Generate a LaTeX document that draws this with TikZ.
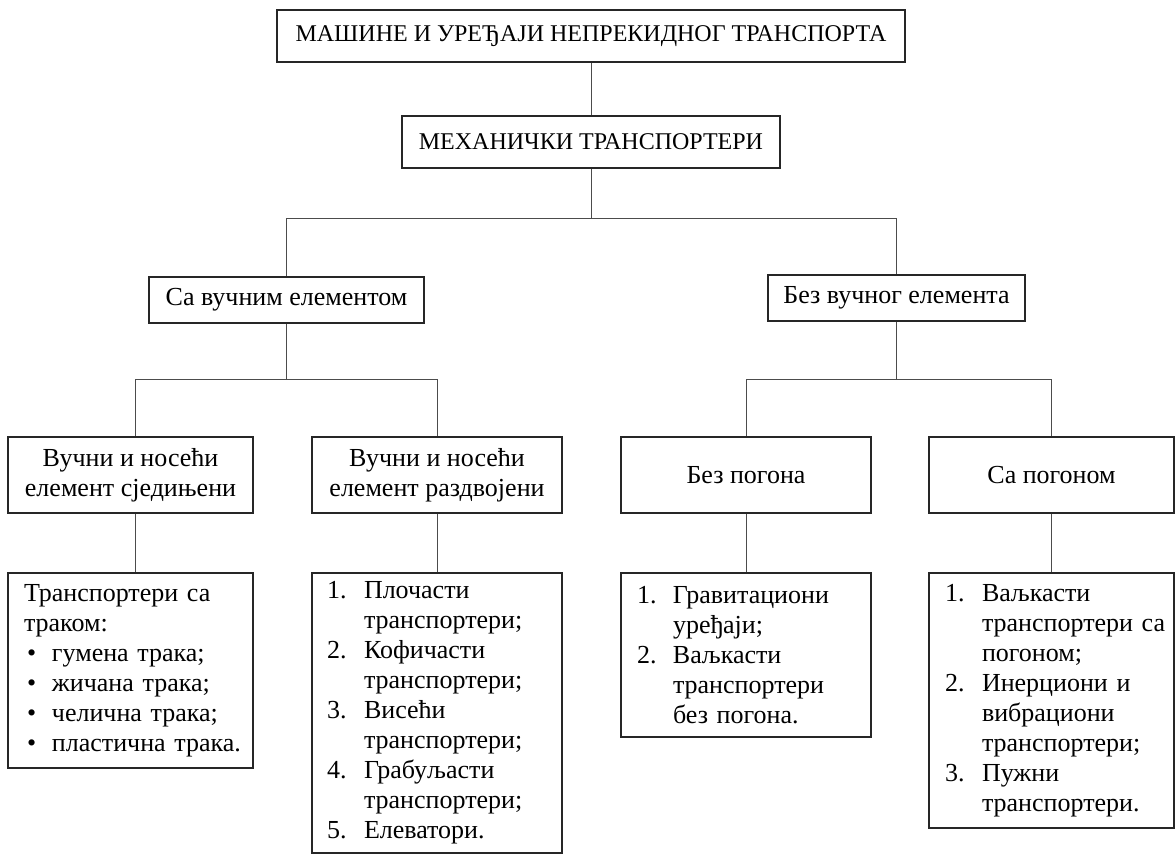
\documentclass[tikz,border=0pt]{standalone}
\usepackage{fontspec}
\setmainfont{Liberation Serif}
\begin{document}
\begin{tikzpicture}[x=1pt,y=-1pt,
  box/.style={draw=black!85, line width=1.1pt, inner sep=0pt, align=center,
    font=\fontsize{26}{30}\selectfont},
  capbox/.style={box, font=\fontsize{24}{30}\selectfont},
  listbox/.style={draw=black!85, line width=1.1pt, inner ysep=0pt, align=left,
    font=\fontsize{26}{30}\selectfont},
  conn/.style={draw=black!70, line width=1pt}]
\useasboundingbox (0,0) rectangle (1176,856);
% level 0 and 1
\node[capbox, minimum width=628pt, minimum height=52pt] (top) at (591,36)
  {МАШИНЕ И УРЕЂАЈИ НЕПРЕКИДНОГ ТРАНСПОРТА};
\node[capbox, minimum width=378pt, minimum height=52pt] (mid) at (591,142)
  {МЕХАНИЧКИ ТРАНСПОРТЕРИ};
% level 2
\node[box, minimum width=275pt, minimum height=46pt] (L1) at (286.5,300)
  {Са вучним елементом};
\node[box, minimum width=257pt, minimum height=46pt] (R1) at (896.5,298)
  {Без вучног елемента};
% level 3
\node[box, minimum width=245pt, minimum height=76pt] (b1) at (130.5,475)
  {Вучни и носећи\\елемент сједињени};
\node[box, minimum width=250pt, minimum height=76pt] (b2) at (437,475)
  {Вучни и носећи\\елемент раздвојени};
\node[box, minimum width=250pt, minimum height=76pt] (b3) at (746,475)
  {Без погона};
\node[box, minimum width=245pt, minimum height=76pt] (b4) at (1051.5,475)
  {Са погоном};
% level 4
\node[listbox, inner xsep=16pt, text width=213pt, minimum height=195pt] (B1) at (130.5,670.5)
  {\mbox{Транспортери са}\\\mbox{траком:}\\
   \mbox{\hspace*{3pt}\makebox[25pt][l]{•}гумена трака;}\\
   \mbox{\hspace*{3pt}\makebox[25pt][l]{•}жичана трака;}\\
   \mbox{\hspace*{3pt}\makebox[25pt][l]{•}челична трака;}\\
   \mbox{\hspace*{3pt}\makebox[25pt][l]{•}пластична трака.}};
\node[listbox, inner xsep=15pt, text width=220pt, minimum height=280pt] (B2) at (437,713)
  {\mbox{\makebox[37pt][l]{1.}Плочасти}\\\mbox{\hspace*{37pt}транспортери;}\\
   \mbox{\makebox[37pt][l]{2.}Кофичасти}\\\mbox{\hspace*{37pt}транспортери;}\\
   \mbox{\makebox[37pt][l]{3.}Висећи}\\\mbox{\hspace*{37pt}транспортери;}\\
   \mbox{\makebox[37pt][l]{4.}Грабуљасти}\\\mbox{\hspace*{37pt}транспортери;}\\
   \mbox{\makebox[37pt][l]{5.}Елеватори.}};
\node[listbox, inner xsep=16pt, text width=218pt, minimum height=164pt] (B3) at (746,655)
  {\mbox{\makebox[36pt][l]{1.}Гравитациони}\\\mbox{\hspace*{36pt}уређаји;}\\
   \mbox{\makebox[36pt][l]{2.}Ваљкасти}\\\mbox{\hspace*{36pt}транспортери}\\
   \mbox{\hspace*{36pt}без погона.}};
\node[listbox, inner xsep=16pt, text width=213pt, minimum height=255pt] (B4) at (1051.5,700.5)
  {\mbox{\makebox[37pt][l]{1.}Ваљкасти}\\\mbox{\hspace*{37pt}транспортери са}\\
   \mbox{\hspace*{37pt}погоном;}\\
   \mbox{\makebox[37pt][l]{2.}Инерциони и}\\\mbox{\hspace*{37pt}вибрациони}\\
   \mbox{\hspace*{37pt}транспортери;}\\
   \mbox{\makebox[37pt][l]{3.}Пужни}\\\mbox{\hspace*{37pt}транспортери.}};
% connectors
\coordinate (h1) at (591,218);
\coordinate (h2) at (286.5,379);
\coordinate (h3) at (896.5,379);
\draw[conn] (top) -- (mid);
\draw[conn] (mid.south) -- (h1);
\draw[conn] (h1) -| (L1.north);
\draw[conn] (h1) -| (R1.north);
\draw[conn] (L1.south) -- (h2);
\draw[conn] (h2) -| ([xshift=4.5pt]b1.north);
\draw[conn] (h2) -| (b2.north);
\draw[conn] (R1.south) -- (h3);
\draw[conn] (h3) -| (b3.north);
\draw[conn] (h3) -| (b4.north);
\draw[conn] ([xshift=4.5pt]b1.south) -- ([xshift=4.5pt]B1.north);
\draw[conn] (b2) -- (B2);
\draw[conn] (b3) -- (B3);
\draw[conn] (b4) -- (B4);
\end{tikzpicture}
\end{document}
